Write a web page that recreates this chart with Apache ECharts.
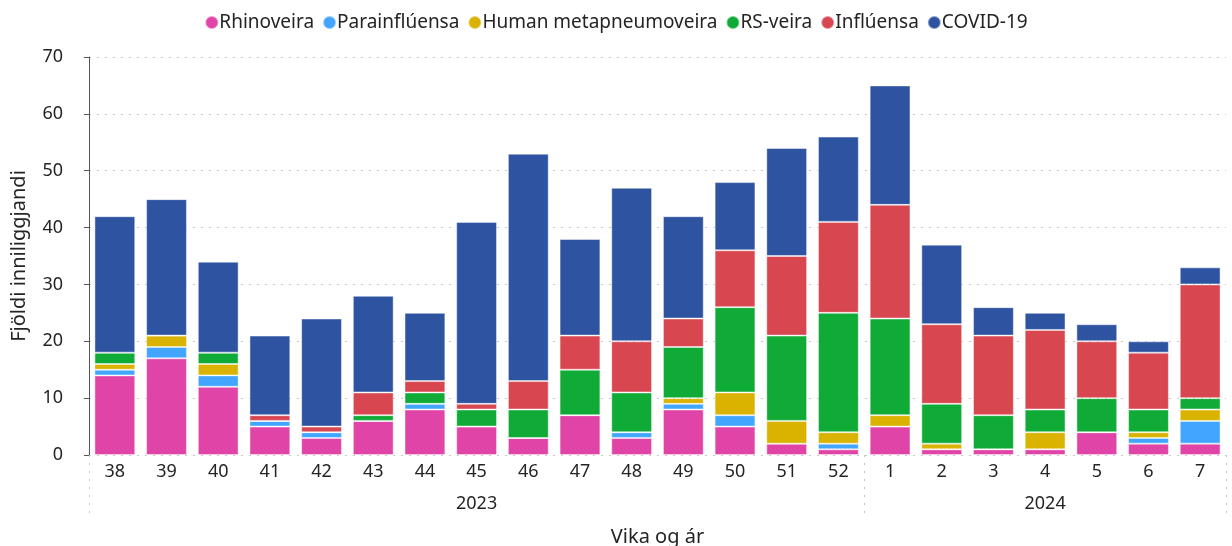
<!DOCTYPE html>
<html>
<head>
<meta charset="utf-8">
<script src="https://cdn.jsdelivr.net/npm/echarts@6/dist/echarts.min.js"></script>
<style>
  html, body { margin: 0; padding: 0; background: #fff; }
  #chart { width: 1232px; height: 546px; }
</style>
</head>
<body>
<div id="chart"></div>
<script>
// week labels and how many of them fall in each year
const weeks = ['38', '39', '40', '41', '42', '43', '44', '45', '46', '47', '48', '49', '50', '51', '52',
  '1', '2', '3', '4', '5', '6', '7']
const years = ['2023', '2024']
const weeksPerYear = [15, 7]

const rhinoveira     = [14, 17, 12, 5, 3, 6, 8, 5, 3, 7, 3, 8, 5, 2, 1, 5, 1, 1, 1, 4, 2, 2]
const parainfluensa  = [1, 2, 2, 1, 1, 0, 1, 0, 0, 0, 1, 1, 2, 0, 1, 0, 0, 0, 0, 0, 1, 4]
const metapneumo     = [1, 2, 2, 0, 0, 0, 0, 0, 0, 0, 0, 1, 4, 4, 2, 2, 1, 0, 3, 0, 1, 2]
const rsVeira        = [2, 0, 2, 0, 0, 1, 2, 3, 5, 8, 7, 9, 15, 15, 21, 17, 7, 6, 4, 6, 4, 2]
const influensa      = [0, 0, 0, 1, 1, 4, 2, 1, 5, 6, 9, 5, 10, 14, 16, 20, 14, 14, 14, 10, 10, 20]
const covid          = [24, 24, 16, 14, 19, 17, 12, 32, 40, 17, 27, 18, 12, 19, 15, 21, 14, 5, 3, 3, 2, 3]

const yTicks = { min: 0, max: 70, interval: 10 }

const seriesDefs = [
  { name: 'Rhinoveira', data: rhinoveira, color: '#E044A7' },
  { name: 'Parainflúensa', data: parainfluensa, color: '#42A5FF' },
  { name: 'Human metapneumoveira', data: metapneumo, color: '#D9B300' },
  { name: 'RS-veira', data: rsVeira, color: '#10AB36' },
  { name: 'Inflúensa', data: influensa, color: '#D84650' },
  { name: 'COVID-19', data: covid, color: '#2E53A0' },
]

// year boundaries and label centres along the category range
const yearStarts = []
const yearCentres = []
let acc = 0
weeksPerYear.forEach(n => { yearStarts.push(acc); yearCentres.push(acc + n / 2); acc += n })

const font = '"Noto Sans", "Open Sans", sans-serif'
const textColor = '#252423'
const chart = echarts.init(document.getElementById('chart'))

chart.setOption({
  animation: false,
  textStyle: { fontFamily: font },
  legend: {
    top: 8,
    left: 'center',
    icon: 'circle',
    itemWidth: 13,
    itemHeight: 13,
    itemGap: 8,
    textStyle: { fontSize: 19, color: textColor, fontFamily: font, padding: [0, 0, 0, -4] },
  },
  grid: { left: 89, right: 6, top: 57, bottom: 91, outerBoundsMode: 'none' },
  xAxis: [
    {
      type: 'category',
      data: weeks,
      axisLine: { show: false },
      axisTick: {
        show: true,
        length: 62,
        interval: (i) => yearStarts.includes(i),
        lineStyle: { type: [2, 6], color: '#c8c8c8' },
      },
      axisLabel: { fontSize: 18, color: textColor, margin: 8, fontFamily: font },
    },
    {
      type: 'value',
      position: 'bottom',
      offset: 36,
      min: 0,
      max: weeks.length,
      axisLine: { show: false },
      axisTick: { show: false },
      splitLine: { show: false },
      axisLabel: {
        customValues: yearCentres,
        formatter: (v) => years[yearCentres.indexOf(v)] || '',
        fontSize: 18,
        color: textColor,
        margin: 4,
        fontFamily: font,
      },
      name: 'Vika og ár',
      nameLocation: 'middle',
      nameGap: 36,
      nameTextStyle: { fontSize: 20, color: textColor, fontFamily: font },
    },
  ],
  yAxis: {
    type: 'value',
    ...yTicks,
    axisLabel: { fontSize: 18, color: textColor, margin: 26, fontFamily: font },
    splitLine: { lineStyle: { type: [2, 6], color: '#c8c8c8' } },
    name: 'Fjöldi inniliggjandi',
    nameLocation: 'middle',
    nameGap: 60,
    nameTextStyle: { fontSize: 20, color: textColor, fontFamily: font },
  },
  series: seriesDefs.map(s => ({
    name: s.name,
    type: 'bar',
    stack: 'total',
    barWidth: '79%',
    data: s.data,
    itemStyle: { color: s.color, borderColor: 'rgba(255,255,255,0.45)', borderWidth: 1 },
  })),
})
</script>
</body>
</html>
